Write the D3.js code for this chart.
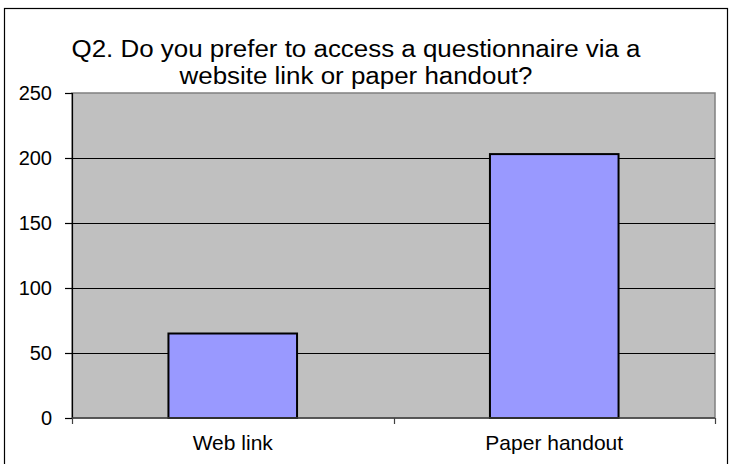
<!DOCTYPE html>
<html>
<head>
<meta charset="utf-8">
<script src="https://cdn.jsdelivr.net/npm/d3@7"></script>
<style>
  html, body { margin: 0; padding: 0; background: #fff; }
  svg { display: block; }
  text { font-family: "Liberation Sans", Arial, sans-serif; fill: #000; }
</style>
</head>
<body>
<svg id="chart" width="737" height="464"></svg>
<script>
const categories = ["Web link", "Paper handout"];
const responses = [65, 203];
const yTicks = [0, 50, 100, 150, 200, 250];
const titleLines = ["Q2. Do you prefer to access a questionnaire via a", "website link or paper handout?"];

const svg = d3.select("#chart");
const W = 737, H = 464;
const plot = { left: 72, right: 715, top: 93, bottom: 418 };

// outer chart frame
svg.append("rect")
  .attr("x", 4.5).attr("y", 8.5)
  .attr("width", 723).attr("height", H)
  .attr("fill", "#fff").attr("stroke", "#000").attr("stroke-width", 1.2);

const x = d3.scaleBand().domain(categories)
  .range([plot.left, plot.right]).paddingInner(0).paddingOuter(0);
const y = d3.scaleLinear().domain([0, 250]).range([plot.bottom, plot.top]);

// plot area
svg.append("rect")
  .attr("x", plot.left).attr("y", plot.top)
  .attr("width", plot.right - plot.left).attr("height", plot.bottom - plot.top)
  .attr("fill", "#c0c0c0").attr("stroke", "#808080").attr("stroke-width", 1.5);

// horizontal gridlines
svg.append("g").selectAll("line")
  .data(yTicks.filter(d => d > 0 && d < 250))
  .join("line")
  .attr("x1", plot.left).attr("x2", plot.right)
  .attr("y1", d => Math.round(y(d)) + 0.5).attr("y2", d => Math.round(y(d)) + 0.5)
  .attr("stroke", "#000").attr("stroke-width", 1.2);

// bars
const barW = x.bandwidth() * 0.4;
svg.append("g").selectAll("rect")
  .data(categories)
  .join("rect")
  .attr("x", d => x(d) + (x.bandwidth() - barW) / 2)
  .attr("y", (d, i) => y(responses[i]))
  .attr("width", barW)
  .attr("height", (d, i) => y(0) - y(responses[i]))
  .attr("fill", "#9999ff").attr("stroke", "#000").attr("stroke-width", 2);

// y axis
const yAxis = d3.axisLeft(y).tickValues(yTicks).tickSize(7).tickPadding(13);
const gy = svg.append("g").attr("transform", `translate(${plot.left},0)`).call(yAxis);
gy.select(".domain").attr("stroke", "#000").attr("stroke-width", 1.2);
gy.selectAll(".tick line").attr("stroke", "#000").attr("stroke-width", 1.2);
gy.selectAll(".tick text").attr("font-size", 20).attr("font-family", "Liberation Sans, Arial, sans-serif")
  .attr("fill", "#222");

// x axis: ticks at category boundaries
const gx = svg.append("g").attr("transform", `translate(0,${plot.bottom})`);
gx.append("line").attr("x1", plot.left).attr("x2", plot.right)
  .attr("y1", 0).attr("y2", 0).attr("stroke", "#404040").attr("stroke-width", 1.5);
const bounds = [plot.left].concat(categories.map(c => x(c) + x.bandwidth()));
gx.selectAll("line.tk").data(bounds).join("line").attr("class", "tk")
  .attr("x1", d => Math.round(d) + 0.5).attr("x2", d => Math.round(d) + 0.5)
  .attr("y1", 0).attr("y2", 6).attr("stroke", "#404040").attr("stroke-width", 1.2);
gx.selectAll("text").data(categories).join("text")
  .attr("x", d => x(d) + x.bandwidth() / 2)
  .attr("y", 32)
  .attr("text-anchor", "middle")
  .attr("font-size", 21)
  .attr("fill", "#222")
  .text(d => d);

// title, widened slightly to the chart's stretched lettering
const title = svg.append("g").selectAll("text").data(titleLines).join("text")
  .attr("x", 356).attr("y", (d, i) => 57 + i * 27)
  .attr("text-anchor", "middle")
  .attr("font-size", 23)
  .text(d => d);
const nat = title.nodes().map(n => n.getComputedTextLength());
const stretch = 569 / nat[0];
title.attr("textLength", (d, i) => nat[i] * stretch).attr("lengthAdjust", "spacingAndGlyphs");
</script>
</body>
</html>
